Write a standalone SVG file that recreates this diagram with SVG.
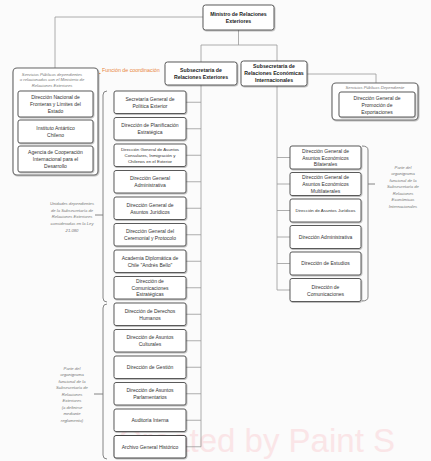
<svg xmlns="http://www.w3.org/2000/svg" width="431" height="461" viewBox="0 0 431 461">
<defs>
<filter id="sh" x="-10%" y="-10%" width="130%" height="140%"><feDropShadow dx="0.7" dy="0.8" stdDeviation="0.6" flood-color="#000" flood-opacity="0.3"/></filter>
<marker id="arr" viewBox="0 0 6 6" refX="1" refY="3" markerWidth="6" markerHeight="6" orient="auto-start-reverse"><path d="M6,0 L0,3 L6,6 Z" fill="#e8604c"/></marker>
<style>
.bx{fill:#fff;stroke:#5a5a5a;stroke-width:1;filter:url(#sh)}
.ob{fill:#fff;stroke:#666;stroke-width:1.1;filter:url(#sh)}
.c{fill:none;stroke:#9a9a9a;stroke-width:0.8}
.br{fill:none;stroke:#777;stroke-width:0.9}
.t{font-family:"Liberation Sans",Arial,sans-serif;font-size:5px;fill:#333;text-anchor:middle}
.s{font-size:4.4px}
.b{font-family:"Liberation Sans",Arial,sans-serif;font-size:5.2px;font-weight:bold;fill:#222;text-anchor:middle}
.n{font-family:"Liberation Sans",Arial,sans-serif;font-size:4.2px;font-style:italic;fill:#777;text-anchor:middle}
.o{font-family:"Liberation Sans",Arial,sans-serif;font-size:5.3px;fill:#e8843a}
.w{font-family:"Liberation Sans",Arial,sans-serif;font-size:33px;fill:#fae5e7}
</style>
</defs>
<rect width="431" height="461" fill="#fbfbfb"/>
<text class="w" x="118" y="452">Created by Paint S</text>

<g id="connectors">
<path class="c" d="M203,17 H55 V68"/>
<path class="c" d="M238.5,30 V45 M201,45 H277 M201,45 V62 M277,45 V61"/>
<path class="c" d="M307,74 H376 V83"/>
<path class="c" d="M201,85 V446.75"/>
<path class="c" d="M186,102.25H201 M186,128.75H201 M186,155.25H201 M186,181.75H201 M186,208.25H201 M186,234.75H201 M186,261.25H201 M186,287.75H201 M186,314.25H201 M186,340.75H201 M186,367.25H201 M186,393.75H201 M186,420.25H201 M186,446.75H201"/>
<path class="c" d="M277,86 V290"/>
<path class="c" d="M277,157.5H290 M277,184H290 M277,210.5H290 M277,237H290 M277,263.5H290 M277,290H290"/>
<path d="M89,73.5 H101" stroke="#e8843a" stroke-width="0.8" stroke-dasharray="1.5,1" fill="none" marker-start="url(#arr)"/>
<path class="br" d="M107,91 Q103,91 103,95 V298 Q103,302 107,302 M95,215 H103"/>
<path class="br" d="M107,304 Q103,304 103,308 V455 Q103,459 107,459 M94,394 H103"/>
<path class="br" d="M362,146 Q368,146 368,150 V297 Q368,301 362,301 M368,184 H375"/>
</g>

<g id="ministro"><rect class="bx" x="203" y="5" width="71" height="25" rx="2.5"/><text class="b" x="238.5" y="15.5">Ministro de Relaciones</text><text class="b" x="238.5" y="22.5">Exteriores</text></g>

<g id="sub-re"><rect class="bx" x="165" y="62" width="72" height="23" rx="2.5"/><text class="b" x="201" y="72">Subsecretaría de</text><text class="b" x="201" y="79">Relaciones Exteriores</text></g>
<g id="sub-rei"><rect class="bx" x="241" y="61" width="66" height="25" rx="2.5"/><text class="b" x="274" y="68">Subsecretaría de</text><text class="b" x="274" y="75">Relaciones Económicas</text><text class="b" x="274" y="82">Internacionales</text></g>

<g id="coordinacion"><text class="o" x="102" y="72">Función de coordinación</text></g>

<g id="servicios-izq">
<rect class="ob" x="13" y="68" width="85" height="107" rx="4"/>
<text class="n" x="52" y="75.5">Servicios Públicos dependientes</text>
<text class="n" x="52" y="81">o relacionados con el Ministerio de</text>
<text class="n" x="52" y="86.5">Relaciones Exteriores</text>
<g id="difrol"><rect class="bx" x="18" y="91" width="75" height="26" rx="2"/><text class="t" x="55.5" y="98.5">Dirección Nacional de</text><text class="t" x="55.5" y="105.5">Fronteras y Límites del</text><text class="t" x="55.5" y="112.5">Estado</text></g>
<g id="inach"><rect class="bx" x="18" y="120" width="75" height="23" rx="2"/><text class="t" x="55.5" y="130">Instituto Antártico</text><text class="t" x="55.5" y="137">Chileno</text></g>
<g id="agci"><rect class="bx" x="18" y="146" width="75" height="26" rx="2"/><text class="t" x="55.5" y="153.5">Agencia de Cooperación</text><text class="t" x="55.5" y="160.5">Internacional para el</text><text class="t" x="55.5" y="167.5">Desarrollo</text></g>
</g>

<g id="servicios-der">
<rect class="ob" x="332" y="83" width="86" height="37" rx="4"/>
<text class="n" x="375" y="88.5">Servicios Públicos Dependiente</text>
<g id="prochile"><rect class="bx" x="339" y="92" width="76" height="25" rx="2"/><text class="t" x="377" y="99.5">Dirección General de</text><text class="t" x="377" y="106.5">Promoción de</text><text class="t" x="377" y="113.5">Exportaciones</text></g>
</g>

<g id="m0"><rect class="bx" x="114" y="91" width="72" height="22.5" rx="2"/><text class="t" x="150" y="100.5">Secretaría General de</text><text class="t" x="150" y="107.5">Política Exterior</text></g>
<g id="m1"><rect class="bx" x="114" y="117.5" width="72" height="22.5" rx="2"/><text class="t" x="150" y="127">Dirección de Planificación</text><text class="t" x="150" y="134">Estratégica</text></g>
<g id="m2"><rect class="bx" x="114" y="144" width="72" height="22.5" rx="2"/><text class="t s" x="150" y="150.8">Dirección General de Asuntos</text><text class="t s" x="150" y="156.8">Consulares, Inmigración y</text><text class="t s" x="150" y="162.8">Chilenos en el Exterior</text></g>
<g id="m3"><rect class="bx" x="114" y="170.5" width="72" height="22.5" rx="2"/><text class="t" x="150" y="180">Dirección General</text><text class="t" x="150" y="187">Administrativa</text></g>
<g id="m4"><rect class="bx" x="114" y="197" width="72" height="22.5" rx="2"/><text class="t" x="150" y="206.5">Dirección General de</text><text class="t" x="150" y="213.5">Asuntos Jurídicos</text></g>
<g id="m5"><rect class="bx" x="114" y="223.5" width="72" height="22.5" rx="2"/><text class="t" x="150" y="233">Dirección General del</text><text class="t" x="150" y="240">Ceremonial y Protocolo</text></g>
<g id="m6"><rect class="bx" x="114" y="250" width="72" height="22.5" rx="2"/><text class="t" x="150" y="259.5">Academia Diplomática de</text><text class="t" x="150" y="266.5">Chile "Andrés Bello"</text></g>
<g id="m7"><rect class="bx" x="114" y="276.5" width="72" height="22.5" rx="2"/><text class="t" x="150" y="282.8">Dirección de</text><text class="t" x="150" y="289.5">Comunicaciones</text><text class="t" x="150" y="296.2">Estratégicas</text></g>
<g id="m8"><rect class="bx" x="114" y="303" width="72" height="22.5" rx="2"/><text class="t" x="150" y="312.5">Dirección de Derechos</text><text class="t" x="150" y="319.5">Humanos</text></g>
<g id="m9"><rect class="bx" x="114" y="329.5" width="72" height="22.5" rx="2"/><text class="t" x="150" y="339">Dirección de Asuntos</text><text class="t" x="150" y="346">Culturales</text></g>
<g id="m10"><rect class="bx" x="114" y="356" width="72" height="22.5" rx="2"/><text class="t" x="150" y="369">Dirección de Gestión</text></g>
<g id="m11"><rect class="bx" x="114" y="382.5" width="72" height="22.5" rx="2"/><text class="t" x="150" y="392">Dirección de Asuntos</text><text class="t" x="150" y="399">Parlamentarios</text></g>
<g id="m12"><rect class="bx" x="114" y="409" width="72" height="22.5" rx="2"/><text class="t" x="150" y="422">Auditoría Interna</text></g>
<g id="m13"><rect class="bx" x="114" y="435.5" width="72" height="22.5" rx="2" style="stroke:#444"/><text class="t" x="150" y="448.5">Archivo General Histórico</text></g>

<g id="r0"><rect class="bx" x="290" y="146" width="71" height="23" rx="2"/><text class="t" x="325.5" y="152.8">Dirección General de</text><text class="t" x="325.5" y="159.5">Asuntos Económicos</text><text class="t" x="325.5" y="166.2">Bilaterales</text></g>
<g id="r1"><rect class="bx" x="290" y="172.5" width="71" height="23" rx="2"/><text class="t" x="325.5" y="179.3">Dirección General de</text><text class="t" x="325.5" y="186">Asuntos Económicos</text><text class="t" x="325.5" y="192.7">Multilaterales</text></g>
<g id="r2"><rect class="bx" x="290" y="199" width="71" height="23" rx="2"/><text class="t s" x="325.5" y="212">Dirección de Asuntos Jurídicos</text></g>
<g id="r3"><rect class="bx" x="290" y="225.5" width="71" height="23" rx="2"/><text class="t" x="325.5" y="238.8">Dirección Administrativa</text></g>
<g id="r4"><rect class="bx" x="290" y="252" width="71" height="23" rx="2"/><text class="t" x="325.5" y="265.3">Dirección de Estudios</text></g>
<g id="r5"><rect class="bx" x="290" y="278.5" width="71" height="23" rx="2"/><text class="t" x="325.5" y="288.5">Dirección de</text><text class="t" x="325.5" y="295.5">Comunicaciones</text></g>

<g id="nota-ley">
<text class="n" x="72" y="205">Unidades dependientes</text>
<text class="n" x="72" y="211.7">de la Subsecretaría de</text>
<text class="n" x="72" y="218.4">Relaciones Exteriores</text>
<text class="n" x="72" y="225.1">consideradas en la Ley</text>
<text class="n" x="72" y="231.8">21.080</text>
</g>
<g id="nota-reglamento">
<text class="n" x="72" y="369.5">Parte del</text>
<text class="n" x="72" y="376">organigrama</text>
<text class="n" x="72" y="382.5">funcional de la</text>
<text class="n" x="72" y="389">Subsecretaría de</text>
<text class="n" x="72" y="395.5">Relaciones</text>
<text class="n" x="72" y="402">Exteriores</text>
<text class="n" x="72" y="408.5">(a definirse</text>
<text class="n" x="72" y="415">mediante</text>
<text class="n" x="72" y="421.5">reglamento)</text>
</g>
<g id="nota-rei">
<text class="n" x="403" y="168.5">Parte del</text>
<text class="n" x="403" y="175">organigrama</text>
<text class="n" x="403" y="181.5">funcional de la</text>
<text class="n" x="403" y="188">Subsecretaría de</text>
<text class="n" x="403" y="194.5">Relaciones</text>
<text class="n" x="403" y="201">Económicas</text>
<text class="n" x="403" y="207.5">Internacionales</text>
</g>
</svg>
